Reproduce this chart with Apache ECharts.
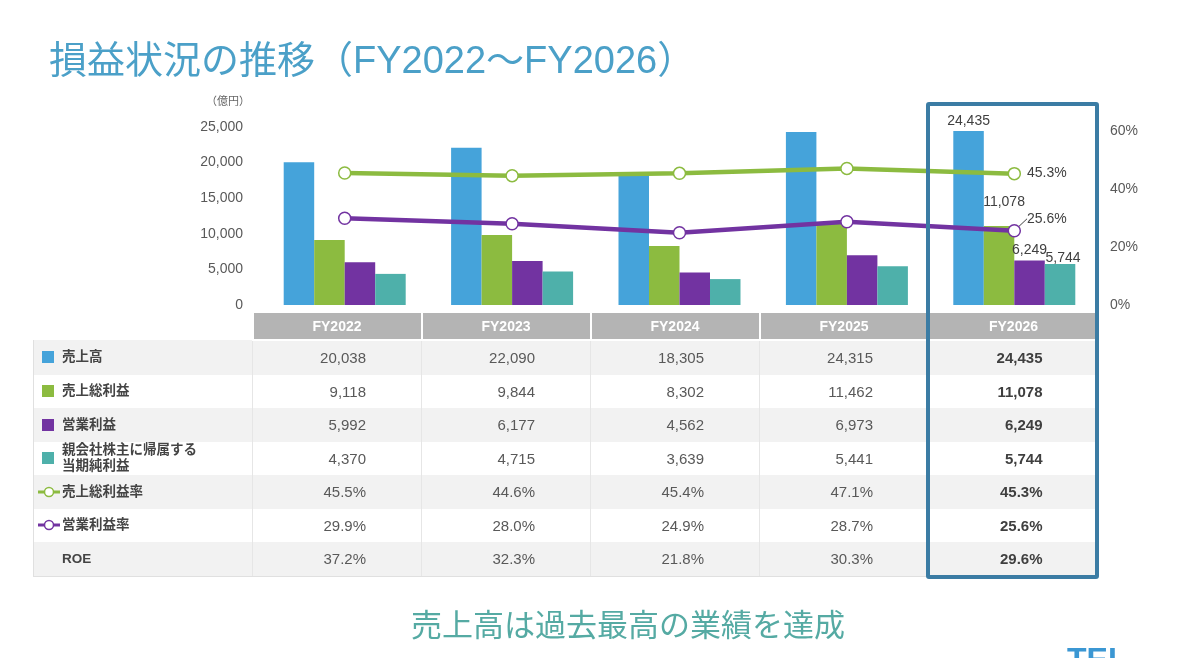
<!DOCTYPE html>
<html>
<head>
<meta charset="utf-8">
<script src="https://cdn.jsdelivr.net/npm/echarts@6/dist/echarts.min.js"></script>
<style>
  html, body { margin: 0; padding: 0; background: #fff; }
  #wrap { position: relative; width: 1200px; height: 658px; overflow: hidden; }
  #main { position: absolute; left: 0; top: 0; width: 1200px; height: 658px; }
  #tbl { position: absolute; left: 33px; top: 313px; border-collapse: collapse; table-layout: fixed;
         font-family: "Liberation Sans", "Noto Sans CJK JP", sans-serif; z-index: 1; }
  #tbl td { padding: 0; }
  #tbl tr.head td { height: 26px; }
  #tbl tr.head td.h { background: #b4b4b4; color: #fff; font-weight: bold; font-size: 14px;
                      text-align: center; border-left: 2px solid #fff; border-bottom: 2px solid #fff; }
  #tbl tr.body td { height: 33.5px; border-left: 1px solid #e6e6e6; }
  #tbl tr.body.odd td { background: #f2f2f2; }
  #tbl tr.body td.v { text-align: right; padding-right: 55px; font-size: 15px; color: #595959; }
  #tbl tr.body td.v.hl { font-weight: bold; color: #3f3f3f; }
  #tbl tr.body td.lab { border-left: 1px solid #e0e0e0; }
  #tbl tr.body:last-child td { border-bottom: 1px solid #e0e0e0; }
  .lab .in { display: flex; align-items: center; height: 31px; padding-left: 4px;
             font-family: "Liberation Sans", "Noto Sans CJK JP", sans-serif; font-weight: bold;
             font-size: 13.5px; color: #444; line-height: 16px; }
  .lab .ic { display: inline-block; width: 24px; flex: none; }
  .lab .sq { display: block; width: 12px; height: 12px; margin-left: 4px; }
</style>
</head>
<body>
<div id="wrap">
  <div id="main"></div>
  <table id="tbl"></table>
  <div id="box" style="position:absolute; left:926px; top:102px; width:173px; height:477px; box-sizing:border-box; border:4px solid #3b7ca4; border-radius:3px; z-index:2; pointer-events:none;"></div>
</div>
<script>
// 年度
var years = ['FY2022', 'FY2023', 'FY2024', 'FY2025', 'FY2026'];
// 億円
var sales = [20038, 22090, 18305, 24315, 24435];
var grossProfit = [9118, 9844, 8302, 11462, 11078];
var opProfit = [5992, 6177, 4562, 6973, 6249];
var netIncome = [4370, 4715, 3639, 5441, 5744];
// %
var grossMargin = [45.5, 44.6, 45.4, 47.1, 45.3];
var opMargin = [29.9, 28.0, 24.9, 28.7, 25.6];
var roe = [37.2, 32.3, 21.8, 30.3, 29.6];

var cBlue = '#45a3da', cGreen = '#8cbb40', cPurple = '#7233a1', cTeal = '#4eb0aa';

function fmtNum(v) { return v.toLocaleString('en-US'); }
function fmtPct(v) { return v.toFixed(1) + '%'; }

// 最終年度だけラベル表示
function lastLabel(arr, lab) {
    return arr.map(function (v, i) {
        return i === arr.length - 1 ? { value: v, label: Object.assign({ show: true }, lab) } : v;
    });
}

var labelText = { color: '#404040', fontSize: 14, fontFamily: 'Liberation Sans' };

// 表
var rows = [
    { name: '売上高', icon: 'sq', color: cBlue, data: sales, f: fmtNum },
    { name: '売上総利益', icon: 'sq', color: cGreen, data: grossProfit, f: fmtNum },
    { name: '営業利益', icon: 'sq', color: cPurple, data: opProfit, f: fmtNum },
    { name: '親会社株主に帰属する<br>当期純利益', icon: 'sq', color: cTeal, data: netIncome, f: fmtNum },
    { name: '売上総利益率', icon: 'ln', color: cGreen, data: grossMargin, f: fmtPct },
    { name: '営業利益率', icon: 'ln', color: cPurple, data: opMargin, f: fmtPct },
    { name: 'ROE', icon: '', color: '', data: roe, f: fmtPct }
];

var html = '<colgroup><col style="width:219px">';
years.forEach(function () { html += '<col style="width:169px">'; });
html += '</colgroup><tr class="head"><td></td>';
years.forEach(function (y) { html += '<td class="h">' + y + '</td>'; });
html += '</tr>';
rows.forEach(function (r, ri) {
    var icon = '';
    if (r.icon === 'sq') {
        icon = '<span class="ic"><span class="sq" style="background:' + r.color + '"></span></span>';
    } else if (r.icon === 'ln') {
        icon = '<span class="ic"><svg width="22" height="12" style="display:block"><line x1="0" y1="6" x2="22" y2="6" stroke="' +
            r.color + '" stroke-width="3"/><circle cx="11" cy="6" r="4.5" fill="#fff" stroke="' + r.color +
            '" stroke-width="1.5"/></svg></span>';
    } else {
        icon = '<span class="ic"></span>';
    }
    html += '<tr class="body ' + (ri % 2 === 0 ? 'odd' : 'even') + '"><td class="lab"><div class="in">' + icon +
        '<span>' + r.name + '</span></div></td>';
    r.data.forEach(function (v, i) {
        html += '<td class="v' + (i === r.data.length - 1 ? ' hl' : '') + '">' + r.f(v) + '</td>';
    });
    html += '</tr>';
});
document.getElementById('tbl').innerHTML = html;

// グラフ
var myChart = echarts.init(document.getElementById('main'));

var option = {
    animation: false,
    title: {
        text: '損益状況の推移（FY2022～FY2026）',
        left: 44,
        top: 39,
        textStyle: { fontSize: 38, fontWeight: 'normal', color: '#4ba0c8', fontFamily: '"Liberation Sans", "Noto Sans CJK JP"' }
    },
    graphic: [
        { type: 'text', left: 206, top: 95,
          style: { text: '（億円）', fontSize: 11, fill: '#666', fontFamily: 'Noto Sans CJK JP' } },
        { type: 'text', left: 411, top: 609,
          style: { text: '売上高は過去最高の業績を達成', fontSize: 31, fill: '#55aaa3', fontFamily: 'Noto Sans CJK JP' } },
        { type: 'text', left: 1067, top: 645,
          style: { text: 'TEL', fontSize: 32, fontWeight: 'bold', fill: '#3b97d3', fontFamily: 'Liberation Sans' } }
    ],
    grid: { left: 261, right: 102, top: 127, bottom: 353 },
    xAxis: {
        type: 'category',
        data: years,
        axisLine: { show: false },
        axisTick: { show: false },
        axisLabel: { show: false }
    },
    yAxis: [
        {
            type: 'value', min: 0, max: 25000, interval: 5000,
            splitLine: { show: false },
            axisLabel: { margin: 18, color: '#595959', fontSize: 14, fontFamily: 'Liberation Sans',
                formatter: function (v) { return fmtNum(v); } }
        },
        {
            type: 'value', min: 0, max: 61.38, interval: 20,
            splitLine: { show: false },
            axisLabel: { margin: 12, color: '#595959', fontSize: 14, fontFamily: 'Liberation Sans',
                formatter: function (v) { return v % 20 === 0 ? v + '%' : ''; } }
        }
    ],
    series: [
        { name: '売上高', type: 'bar', barWidth: 30.5, barGap: '0%', itemStyle: { color: cBlue },
          data: lastLabel(sales, Object.assign({ position: 'top', distance: 3, formatter: function (p) { return fmtNum(p.value); } }, labelText)) },
        { name: '売上総利益', type: 'bar', barWidth: 30.5, barGap: '0%', itemStyle: { color: cGreen },
          data: lastLabel(grossProfit, Object.assign({ position: 'top', offset: [5, -12], formatter: function (p) { return fmtNum(p.value); } }, labelText)) },
        { name: '営業利益', type: 'bar', barWidth: 30.5, barGap: '0%', itemStyle: { color: cPurple },
          data: lastLabel(opProfit, Object.assign({ position: 'top', distance: 3, formatter: function (p) { return fmtNum(p.value); } }, labelText)) },
        { name: '親会社株主に帰属する当期純利益', type: 'bar', barWidth: 30.5, barGap: '0%', itemStyle: { color: cTeal },
          data: lastLabel(netIncome, Object.assign({ position: 'top', offset: [3, 6], formatter: function (p) { return fmtNum(p.value); } }, labelText)) },
        { name: '売上総利益率', type: 'line', yAxisIndex: 1, z: 5,
          symbol: 'circle', symbolSize: 12,
          lineStyle: { color: cGreen, width: 4.5 },
          itemStyle: { color: '#fff', borderColor: cGreen, borderWidth: 1.5 },
          data: lastLabel(grossMargin, Object.assign({ position: 'right', distance: 6, formatter: function (p) { return fmtPct(p.value); } }, labelText)) },
        { name: '営業利益率', type: 'line', yAxisIndex: 1, z: 5,
          symbol: 'circle', symbolSize: 12,
          lineStyle: { color: cPurple, width: 4.5 },
          itemStyle: { color: '#fff', borderColor: cPurple, borderWidth: 1.5 },
          labelLine: { show: true, lineStyle: { color: '#404040', width: 1 } },
          labelLayout: function (p) { return p.dataIndex === opMargin.length - 1 ? { dx: 0, dy: -12 } : {}; },
          data: lastLabel(opMargin, Object.assign({ position: 'right', distance: 6, formatter: function (p) { return fmtPct(p.value); } }, labelText)) }
    ]
};
myChart.setOption(option);
</script>
</body>
</html>
